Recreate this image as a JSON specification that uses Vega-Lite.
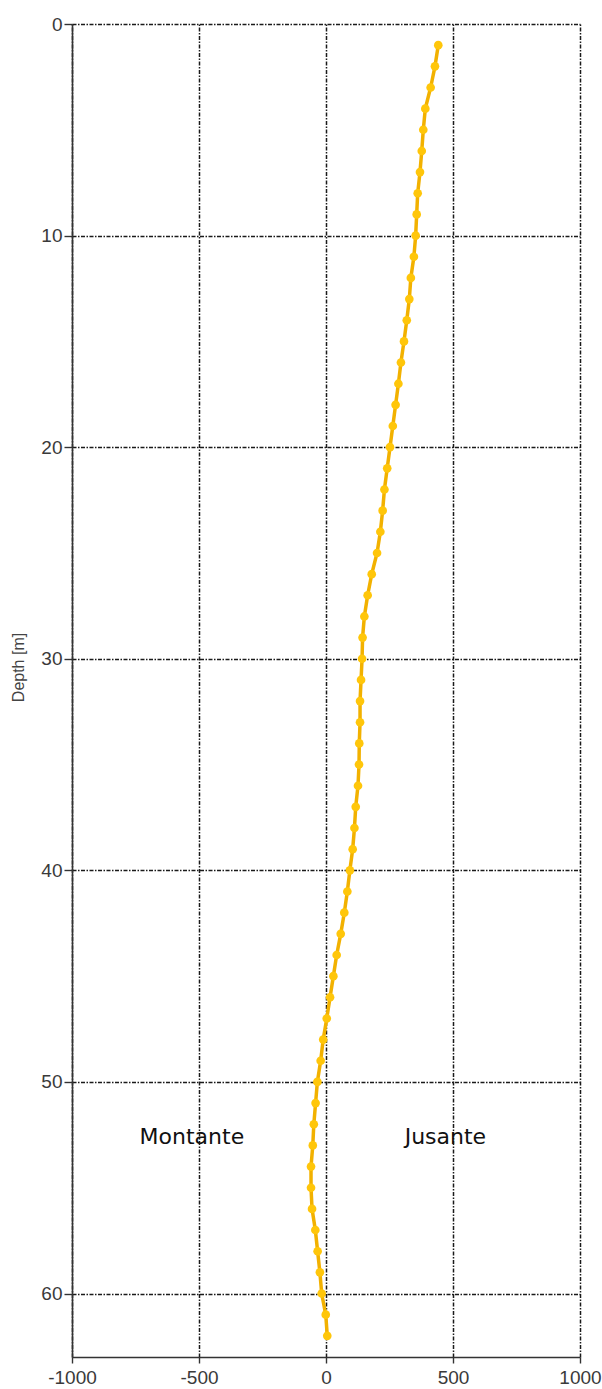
{
  "$schema": "https://vega.github.io/schema/vega-lite/v6.json",
  "autosize": "none",
  "width": 508,
  "height": 1333,
  "padding": {"left": 72, "top": 24, "right": 22, "bottom": 32},
  "background": "white",
  "config": {
    "view": {"stroke": null},
    "axis": {
      "labelFont": "Liberation Sans",
      "labelFontSize": 19,
      "labelColor": "#3a3a3a",
      "domainColor": "#333333",
      "domainWidth": 1.6,
      "tickColor": "#333333",
      "tickWidth": 1.4,
      "gridColor": "#1a1a1a",
      "gridWidth": 1.5,
      "gridDash": [4, 1.5, 1.5, 1.5],
      "gridOpacity": 1
    }
  },
  "datasets": {
    "profile": [
      {"depth": 1, "v": 442}, {"depth": 2, "v": 429}, {"depth": 3, "v": 412},
      {"depth": 4, "v": 391}, {"depth": 5, "v": 383}, {"depth": 6, "v": 377},
      {"depth": 7, "v": 370}, {"depth": 8, "v": 361}, {"depth": 9, "v": 357},
      {"depth": 10, "v": 353}, {"depth": 11, "v": 346}, {"depth": 12, "v": 334},
      {"depth": 13, "v": 328}, {"depth": 14, "v": 318}, {"depth": 15, "v": 307},
      {"depth": 16, "v": 295}, {"depth": 17, "v": 285}, {"depth": 18, "v": 274},
      {"depth": 19, "v": 263}, {"depth": 20, "v": 252}, {"depth": 21, "v": 241},
      {"depth": 22, "v": 230}, {"depth": 23, "v": 223}, {"depth": 24, "v": 214},
      {"depth": 25, "v": 201}, {"depth": 26, "v": 180}, {"depth": 27, "v": 164},
      {"depth": 28, "v": 151}, {"depth": 29, "v": 144}, {"depth": 30, "v": 142},
      {"depth": 31, "v": 138}, {"depth": 32, "v": 134}, {"depth": 33, "v": 134},
      {"depth": 34, "v": 131}, {"depth": 35, "v": 130}, {"depth": 36, "v": 126},
      {"depth": 37, "v": 117}, {"depth": 38, "v": 112}, {"depth": 39, "v": 105},
      {"depth": 40, "v": 94}, {"depth": 41, "v": 84}, {"depth": 42, "v": 72},
      {"depth": 43, "v": 58}, {"depth": 44, "v": 42}, {"depth": 45, "v": 29},
      {"depth": 46, "v": 16}, {"depth": 47, "v": 3}, {"depth": 48, "v": -11},
      {"depth": 49, "v": -21}, {"depth": 50, "v": -34}, {"depth": 51, "v": -41},
      {"depth": 52, "v": -48}, {"depth": 53, "v": -52}, {"depth": 54, "v": -59},
      {"depth": 55, "v": -59}, {"depth": 56, "v": -55}, {"depth": 57, "v": -42},
      {"depth": 58, "v": -33}, {"depth": 59, "v": -24}, {"depth": 60, "v": -17},
      {"depth": 61, "v": -1}, {"depth": 62, "v": 5}
    ],
    "labels": [
      {"label": "Montante", "v": -528, "depth": 52.6},
      {"label": "Jusante", "v": 470, "depth": 52.6}
    ]
  },
  "layer": [
    {
      "data": {"name": "profile"},
      "mark": {"type": "line", "color": "#F2B100", "strokeWidth": 3.5},
      "encoding": {
        "x": {
          "field": "v", "type": "quantitative",
          "scale": {"domain": [-1000, 1000], "nice": false, "zero": false},
          "axis": {
            "values": [-1000, -500, 0, 500, 1000],
            "labelExpr": "'' + datum.value",
            "title": null,
            "tickSize": 6,
            "labelPadding": 5,
            "labelFlush": false,
            "grid": true
          }
        },
        "y": {
          "field": "depth", "type": "quantitative",
          "scale": {"domain": [0, 63], "nice": false, "reverse": true, "zero": false},
          "axis": {
            "values": [0, 10, 20, 30, 40, 50, 60],
            "format": "d",
            "title": "Depth [m]",
            "titleFont": "Liberation Sans",
            "titleFontSize": 16,
            "titleFontWeight": "normal",
            "titleColor": "#444444",
            "titleAngle": -90,
            "titleAlign": "center",
            "titleBaseline": "middle",
            "titleX": -54,
            "titleY": 643,
            "tickSize": 8,
            "labelPadding": 2,
            "labelFlush": false,
            "grid": true
          }
        },
        "order": {"field": "depth", "type": "quantitative"}
      }
    },
    {
      "data": {"name": "profile"},
      "mark": {"type": "point", "shape": "circle", "filled": true, "size": 75, "color": "#FFC60A", "opacity": 1},
      "encoding": {
        "x": {"field": "v", "type": "quantitative"},
        "y": {"field": "depth", "type": "quantitative"}
      }
    },
    {
      "data": {"name": "labels"},
      "mark": {"type": "text", "font": "DejaVu Sans", "fontSize": 22, "color": "#111111", "align": "center", "baseline": "middle"},
      "encoding": {
        "x": {"field": "v", "type": "quantitative"},
        "y": {"field": "depth", "type": "quantitative"},
        "text": {"field": "label"}
      }
    }
  ]
}
